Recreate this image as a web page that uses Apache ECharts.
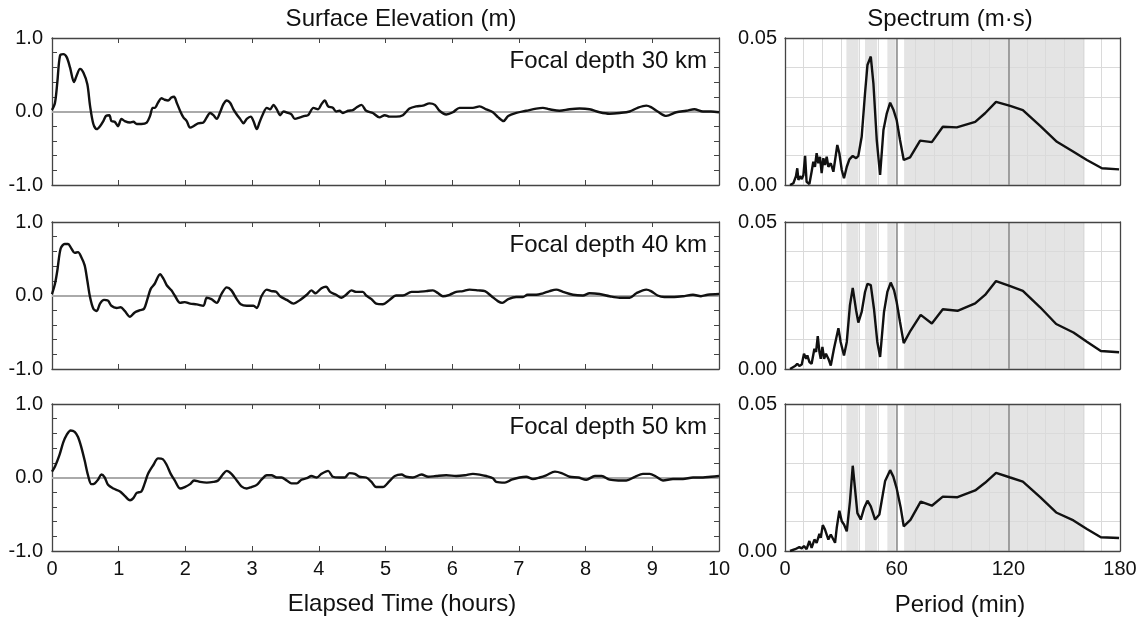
<!DOCTYPE html>
<html><head><meta charset="utf-8">
<script src="https://cdn.jsdelivr.net/npm/echarts@6/dist/echarts.min.js"></script>
<style>html,body{margin:0;padding:0;background:#fff}#c{width:1144px;height:620px}</style>
</head><body><div id="c"></div>
<script>
// ---------- data ----------
const depthLabels = ['Focal depth 30 km', 'Focal depth 40 km', 'Focal depth 50 km'];

// [elapsed time (hours), surface elevation (m)]
const elev30 = [[0,0.02],[0.045,0.12],[0.08,0.4],[0.12,0.76],[0.17,0.78],[0.22,0.74],[0.27,0.6],[0.33,0.4],[0.37,0.49],[0.42,0.58],[0.47,0.53],[0.53,0.37],[0.57,0.08],[0.62,-0.17],[0.67,-0.24],[0.72,-0.2],[0.77,-0.13],[0.81,-0.06],[0.86,-0.05],[0.89,-0.13],[0.94,-0.14],[0.99,-0.2],[1.04,-0.1],[1.09,-0.13],[1.17,-0.15],[1.22,-0.14],[1.27,-0.17],[1.34,-0.17],[1.42,-0.15],[1.47,-0.06],[1.51,0.05],[1.54,0.05],[1.59,0.12],[1.64,0.18],[1.69,0.16],[1.74,0.15],[1.79,0.19],[1.83,0.2],[1.87,0.12],[1.92,0.01],[1.97,-0.08],[2.02,-0.13],[2.07,-0.22],[2.12,-0.2],[2.19,-0.16],[2.27,-0.15],[2.32,-0.08],[2.37,-0.02],[2.42,-0.05],[2.47,-0.1],[2.52,-0.01],[2.57,0.1],[2.62,0.15],[2.67,0.12],[2.72,0.03],[2.77,-0.04],[2.82,-0.1],[2.87,-0.16],[2.92,-0.1],[2.98,-0.07],[3.02,-0.13],[3.07,-0.24],[3.11,-0.15],[3.16,-0.04],[3.22,0.05],[3.27,0.03],[3.32,0.09],[3.37,0.03],[3.42,-0.05],[3.47,0],[3.54,-0.02],[3.59,-0.04],[3.64,-0.1],[3.72,-0.08],[3.79,-0.06],[3.84,-0.05],[3.92,0.05],[3.99,0.03],[4.04,0.1],[4.09,0.15],[4.14,0.07],[4.21,0.05],[4.26,0],[4.31,0.01],[4.36,-0.02],[4.44,0.01],[4.51,0.02],[4.56,0.05],[4.64,0.09],[4.71,0.01],[4.81,-0.02],[4.91,-0.08],[4.99,-0.05],[5.06,-0.07],[5.16,-0.07],[5.26,-0.05],[5.36,0.04],[5.46,0.07],[5.56,0.08],[5.66,0.11],[5.74,0.09],[5.81,0.01],[5.91,-0.04],[6.01,-0.01],[6.11,0.05],[6.21,0.05],[6.31,0.05],[6.41,0.07],[6.51,0.03],[6.61,-0.01],[6.69,-0.08],[6.77,-0.13],[6.84,-0.06],[6.96,-0.02],[7.11,0.01],[7.26,0.04],[7.36,0.05],[7.46,0.03],[7.61,0.01],[7.76,0.03],[7.91,0.04],[8.06,0.03],[8.21,-0.01],[8.36,-0.03],[8.51,-0.02],[8.66,0],[8.78,0.05],[8.91,0.08],[8.98,0.06],[9.08,0],[9.21,-0.06],[9.36,-0.01],[9.51,0.01],[9.63,0.03],[9.76,0],[9.88,0],[10,-0.01]];

const elev40 = [[0,0.02],[0.045,0.16],[0.08,0.34],[0.13,0.64],[0.19,0.7],[0.24,0.7],[0.29,0.64],[0.34,0.58],[0.39,0.59],[0.44,0.52],[0.49,0.41],[0.53,0.2],[0.57,-0.02],[0.62,-0.18],[0.67,-0.21],[0.72,-0.11],[0.78,-0.06],[0.84,-0.07],[0.89,-0.14],[0.97,-0.17],[1.03,-0.16],[1.09,-0.21],[1.17,-0.29],[1.24,-0.23],[1.32,-0.2],[1.38,-0.18],[1.43,-0.05],[1.48,0.09],[1.54,0.16],[1.62,0.29],[1.67,0.23],[1.72,0.14],[1.79,0.07],[1.84,0],[1.92,-0.1],[1.99,-0.09],[2.07,-0.11],[2.17,-0.12],[2.27,-0.14],[2.32,-0.03],[2.39,-0.05],[2.47,-0.1],[2.54,0.02],[2.62,0.11],[2.69,0.07],[2.77,-0.05],[2.83,-0.12],[2.92,-0.14],[3.02,-0.14],[3.07,-0.17],[3.14,-0.01],[3.22,0.08],[3.29,0.06],[3.36,0.05],[3.42,-0.01],[3.52,-0.06],[3.62,-0.11],[3.72,-0.06],[3.82,0.01],[3.89,0.07],[3.95,0.03],[4.04,0.1],[4.11,0.12],[4.17,0.05],[4.26,0.01],[4.34,-0.03],[4.41,0.01],[4.49,0.07],[4.56,0.05],[4.66,0.05],[4.71,0],[4.79,-0.05],[4.86,-0.11],[4.96,-0.12],[5.06,-0.06],[5.16,0],[5.26,0],[5.39,0.05],[5.49,0.05],[5.61,0.06],[5.71,0.07],[5.79,0.03],[5.86,-0.01],[5.96,0.01],[6.06,0.05],[6.16,0.06],[6.26,0.08],[6.39,0.07],[6.49,0.06],[6.59,-0.01],[6.69,-0.08],[6.75,-0.1],[6.84,-0.05],[6.96,-0.02],[7.06,-0.02],[7.13,0.01],[7.26,0.01],[7.36,0.03],[7.46,0.06],[7.56,0.08],[7.66,0.05],[7.81,0.01],[7.96,0],[8.06,0.03],[8.21,0.02],[8.36,-0.01],[8.51,-0.03],[8.66,-0.03],[8.76,0.03],[8.91,0.08],[8.98,0.06],[9.08,0],[9.18,-0.02],[9.33,-0.02],[9.46,-0.01],[9.61,0.01],[9.73,-0.01],[9.83,0.01],[10,0.02]];

const elev50 = [[0,0.08],[0.045,0.15],[0.11,0.3],[0.17,0.48],[0.22,0.58],[0.28,0.64],[0.34,0.62],[0.39,0.55],[0.44,0.41],[0.49,0.23],[0.54,0.03],[0.59,-0.09],[0.64,-0.08],[0.69,-0.03],[0.74,0.04],[0.79,0],[0.84,-0.1],[0.92,-0.15],[1.02,-0.19],[1.09,-0.25],[1.17,-0.31],[1.22,-0.28],[1.27,-0.21],[1.34,-0.19],[1.39,-0.08],[1.44,0.05],[1.52,0.17],[1.59,0.26],[1.66,0.25],[1.72,0.17],[1.78,0.05],[1.84,-0.04],[1.92,-0.15],[1.99,-0.13],[2.07,-0.09],[2.13,-0.04],[2.22,-0.06],[2.32,-0.07],[2.42,-0.06],[2.49,-0.04],[2.56,0.04],[2.62,0.09],[2.69,0.05],[2.77,-0.04],[2.84,-0.12],[2.92,-0.15],[2.99,-0.13],[3.07,-0.1],[3.14,-0.03],[3.22,0.03],[3.29,0.03],[3.37,0],[3.44,0],[3.52,-0.04],[3.59,-0.08],[3.67,-0.08],[3.74,-0.03],[3.82,-0.01],[3.89,0.02],[3.97,0],[4.04,0.05],[4.14,0.09],[4.21,0.01],[4.31,0],[4.39,0],[4.46,0.06],[4.54,0.05],[4.61,0.01],[4.71,0],[4.79,-0.06],[4.86,-0.13],[4.96,-0.13],[5.06,-0.05],[5.14,0.02],[5.24,0.04],[5.31,0.01],[5.41,0],[5.54,0.04],[5.64,0.01],[5.76,0.02],[5.91,0.03],[6.06,0.02],[6.19,0.03],[6.31,0.05],[6.41,0.04],[6.51,0.02],[6.61,-0.01],[6.66,-0.06],[6.79,-0.07],[6.89,-0.03],[7.01,0],[7.11,0.01],[7.21,-0.02],[7.31,0],[7.41,0.03],[7.54,0.08],[7.64,0.06],[7.76,0.01],[7.89,0],[8.01,-0.03],[8.14,0.02],[8.24,0.02],[8.36,-0.03],[8.49,-0.04],[8.61,-0.04],[8.74,0.01],[8.86,0.05],[8.96,0.05],[9.06,0.01],[9.16,-0.04],[9.31,-0.02],[9.46,-0.02],[9.61,0],[9.76,0],[9.88,0.01],[10,0.02]];

// [period (min), spectrum (m·s)]
const spec30 = [[2.7,0],[4.5,0.0006],[5.9,0.003],[6.6,0.0057],[7.2,0.0017],[8.1,0.003],[9,0.002],[9.9,0.0034],[10.8,0.0099],[11.6,0.0011],[13.1,0.0003],[14.3,0.0045],[15.2,0.0079],[16.1,0.0062],[17,0.0108],[17.9,0.0074],[18.8,0.0096],[19.7,0.004],[20.6,0.0091],[21.5,0.0068],[22.4,0.0096],[23.3,0.0062],[24.6,0.0074],[26,0.0045],[26.9,0.0051],[28.1,0.0136],[29.2,0.0108],[30.5,0.0051],[31.7,0.0023],[33.2,0.0062],[34.6,0.0087],[36.4,0.0099],[38.2,0.0091],[39.4,0.0099],[41.2,0.0164],[43,0.0312],[44.3,0.0408],[46.1,0.0437],[47.5,0.0346],[49.3,0.0153],[51.1,0.0034],[52.9,0.0187],[54.7,0.0244],[56.5,0.028],[58.2,0.0257],[60,0.0221],[61.8,0.0153],[63.8,0.0085],[67.2,0.0094],[72.6,0.0151],[78.9,0.0146],[84.8,0.0198],[92.3,0.0196],[102.2,0.0215],[107.5,0.0244],[113.4,0.0283],[121,0.0269],[127.8,0.0255],[137.1,0.0201],[146.1,0.0147],[155,0.0113],[162.2,0.0085],[170.3,0.0057],[179.5,0.0053]];

const spec40 = [[2.7,0],[5.4,0.001],[6.6,0.0018],[7.7,0.001],[9,0.0015],[10.2,0.0052],[11.4,0.0035],[12,0.0046],[13.1,0.0024],[14.3,0.0018],[15.8,0.0069],[16.7,0.0058],[17.6,0.0112],[18.5,0.0058],[19.2,0.0035],[20.1,0.0075],[21,0.0035],[22,0.0052],[23.3,0.0035],[24.6,0.0012],[26.3,0.0069],[28.7,0.0139],[29.9,0.0092],[31.7,0.0046],[33.2,0.0092],[34.9,0.0217],[36.4,0.0276],[38.2,0.02],[39.4,0.0158],[41.2,0.0194],[43,0.0262],[44.3,0.029],[46.1,0.0285],[47.8,0.0205],[49.6,0.0092],[51.1,0.0041],[53.2,0.0194],[55,0.0262],[56.8,0.0294],[58.6,0.0268],[60,0.0228],[61.8,0.016],[63.8,0.0088],[67.4,0.013],[72.9,0.0184],[78.9,0.0155],[84.8,0.0203],[92.7,0.0198],[102.2,0.0223],[107.5,0.0252],[113.4,0.0299],[121,0.0282],[127.8,0.0266],[137.1,0.021],[145.7,0.0153],[155,0.0124],[162.2,0.0093],[169.7,0.0061],[179.5,0.0057]];

const spec50 = [[2.7,0],[5.4,0.0006],[7.7,0.0013],[9,0.0009],[10.2,0.0017],[11.6,0.0006],[13.1,0.0034],[14.3,0.0011],[15.8,0.0039],[17,0.0028],[18.5,0.0058],[19.2,0.0045],[20.3,0.0088],[21.5,0.0073],[23.3,0.0039],[24.6,0.0056],[26,0.0039],[26.9,0.0028],[27.8,0.0079],[29.2,0.0137],[30.5,0.0101],[31.7,0.009],[33.2,0.0067],[34.9,0.0168],[36.4,0.029],[37.6,0.0213],[38.9,0.0129],[40.7,0.0107],[42.5,0.0146],[44.3,0.0171],[46.1,0.0152],[48.4,0.0107],[50.7,0.0124],[53.8,0.0238],[56.5,0.0275],[58.2,0.0253],[60,0.0213],[62.2,0.0146],[63.8,0.0084],[67.4,0.0106],[72.9,0.0168],[78.9,0.0154],[84.8,0.0185],[92.7,0.0183],[102.2,0.0206],[107.5,0.0232],[113.4,0.0266],[121,0.025],[127.8,0.0236],[137.1,0.0183],[145.7,0.0131],[155,0.0104],[162.2,0.0075],[169.7,0.0047],[179.5,0.0044]];

// shaded period bands (min) and reference period lines (min)
const bands = [[33, 39.5], [43, 49.5], [55, 59.5], [64, 161]];
const refPeriods = [60, 120];
const elevLabels = [-1, 0, 1];
const specLabels = [0, 0.05];
const periodLabels = [0, 60, 120, 180];

// ---------- chart ----------
const elevs = [elev30, elev40, elev50];
const specs = [spec30, spec40, spec50];
const FONT = '"Liberation Sans", Arial, sans-serif';
const BORDER = '#444';
const TXT = '#111';
const tops = [38, 222, 404];
const H = 147;

const grid = [], xAxis = [], yAxis = [], series = [];
for (let i = 0; i < 3; i++) {
  const last = i === 2;
  grid.push({left: 52, top: tops[i], width: 667, height: H});
  grid.push({left: 785, top: tops[i], width: 335, height: H});
  const gl = 2 * i, gr = 2 * i + 1;
  const tick = {show: true, inside: true, length: 5, lineStyle: {color: BORDER, width: 1}};
  const line = {show: true, onZero: false, lineStyle: {color: BORDER, width: 1.3}};
  // left panel x axes (bottom + top)
  xAxis.push({gridIndex: gl, type: 'value', min: 0, max: 10, interval: 1, position: 'bottom',
    axisLine: line, axisTick: tick, splitLine: {show: false},
    axisLabel: {show: last, fontSize: 20, color: TXT, fontFamily: FONT, margin: 8}});
  xAxis.push({gridIndex: gl, type: 'value', min: 0, max: 10, interval: 1, position: 'top',
    axisLine: line, axisTick: tick, splitLine: {show: false}, axisLabel: {show: false}});
  // right panel x axes
  xAxis.push({gridIndex: gr, type: 'value', min: 0, max: 180, interval: 10, position: 'bottom', z: 1,
    axisLine: line, axisTick: {show: false},
    splitLine: {show: true, showMinLine: false, showMaxLine: false, lineStyle: {color: '#dadada', width: 1}},
    axisLabel: {show: last, fontSize: 20, color: TXT, fontFamily: FONT, margin: 8,
      formatter: v => periodLabels.includes(Math.round(v)) && Math.abs(v - Math.round(v)) < 1e-6 ? String(Math.round(v)) : ''}});
  xAxis.push({gridIndex: gr, type: 'value', min: 0, max: 180, position: 'top', z: 3,
    axisLine: line, axisTick: {show: false}, splitLine: {show: false}, axisLabel: {show: false}});
  // left panel y axes
  yAxis.push({gridIndex: gl, type: 'value', min: -1, max: 1, interval: 0.2, position: 'left',
    axisLine: line, axisTick: tick, splitLine: {show: false},
    axisLabel: {fontSize: 20, color: TXT, fontFamily: FONT, margin: 9,
      formatter: v => { const r = Math.round(v); return (Math.abs(v - r) < 1e-6 && elevLabels.includes(r)) ? r.toFixed(1) : ''; }}});
  yAxis.push({gridIndex: gl, type: 'value', min: -1, max: 1, interval: 0.2, position: 'right',
    axisLine: line, axisTick: tick, splitLine: {show: false}, axisLabel: {show: false}});
  // right panel y axes
  yAxis.push({gridIndex: gr, type: 'value', min: 0, max: 0.05, interval: 0.01, position: 'left', z: 1,
    axisLine: line, axisTick: {show: false},
    splitLine: {show: true, showMinLine: false, showMaxLine: false, lineStyle: {color: '#dadada', width: 1}},
    axisLabel: {fontSize: 20, color: TXT, fontFamily: FONT, margin: 8,
      formatter: v => specLabels.some(s => Math.abs(s - v) < 1e-9) ? v.toFixed(2) : ''}});
  yAxis.push({gridIndex: gr, type: 'value', min: 0, max: 0.05, position: 'right', z: 3,
    axisLine: line, axisTick: {show: false}, splitLine: {show: false}, axisLabel: {show: false}});

  series.push({type: 'line', xAxisIndex: 4 * i, yAxisIndex: 4 * i, data: elevs[i],
    showSymbol: false, smooth: 0.3, z: 2,
    lineStyle: {color: '#111', width: 2.4},
    markLine: {silent: true, symbol: 'none', z: 1, label: {show: false},
      lineStyle: {color: '#aaaaaa', width: 2, type: 'solid'}, data: [{yAxis: 0}]}});
  // shaded bands on their own background series (below the grid lines)
  series.push({type: 'line', xAxisIndex: 4 * i + 2, yAxisIndex: 4 * i + 2, data: [], z: 0,
    markArea: {silent: true, z: 0, itemStyle: {color: '#e4e4e4'},
      data: bands.map(b => [{xAxis: b[0]}, {xAxis: b[1]}])}});
  series.push({type: 'line', xAxisIndex: 4 * i + 2, yAxisIndex: 4 * i + 2, data: specs[i],
    showSymbol: false, smooth: false, z: 2,
    lineStyle: {color: '#111', width: 2.4},
    markLine: {silent: true, symbol: 'none', z: 1.5, label: {show: false},
      lineStyle: {color: '#888888', width: 1.5, type: 'solid'},
      data: refPeriods.map(p => ({xAxis: p}))}});
}

const txt = (t, x, y, align) => ({type: 'text', x: x, y: y, silent: true,
  style: {text: t, font: '24px ' + FONT, fill: TXT, textAlign: align, textVerticalAlign: 'middle', verticalAlign: 'middle'}});
const graphic = [
  txt('Surface Elevation (m)', 401, 19, 'center'),
  txt('Spectrum (m·s)', 950, 19, 'center'),
  txt('Elapsed Time (hours)', 402, 604, 'center'),
  txt('Period (min)', 960, 605, 'center'),
];
depthLabels.forEach((d, i) => graphic.push(txt(d, 707, tops[i] + 23, 'right')));

const chart = echarts.init(document.getElementById('c'), null, {renderer: 'canvas'});
chart.setOption({animation: false, backgroundColor: '#fff', grid, xAxis, yAxis, series, graphic});
</script></body></html>
